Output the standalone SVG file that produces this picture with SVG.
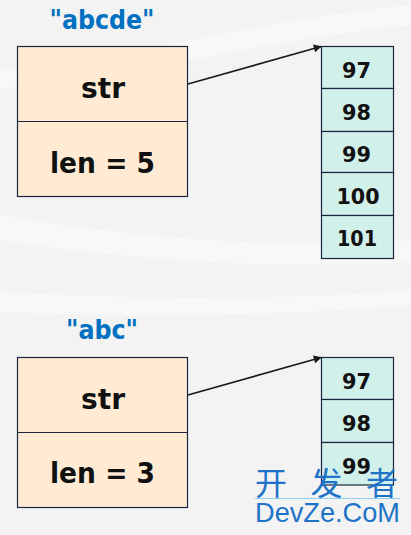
<svg xmlns="http://www.w3.org/2000/svg" width="411" height="535" viewBox="0 0 411 535">
<style>
.lbl{font-family:"Comic Sans MS","DejaVu Sans",sans-serif;font-weight:bold;font-size:27px;fill:#0070C0;text-anchor:middle}
.fld{font-family:"Comic Sans MS","DejaVu Sans",sans-serif;font-weight:bold;font-size:28px;fill:#111;text-anchor:middle}
.num{font-family:"Comic Sans MS","DejaVu Sans",sans-serif;font-weight:bold;font-size:22px;fill:#111;text-anchor:middle}
.box{fill:#FFEBD4;stroke:#1b2540;stroke-width:1.2}
.cell{fill:#D2F0EA;stroke:#1b2540;stroke-width:1.2}
.conn{stroke:#1a1a1a;stroke-width:1.6;fill:none}
.wm{font-family:"Liberation Sans","Noto Sans CJK SC",sans-serif;fill:#1E73C8}
</style>
<defs>
<marker id="ah" viewBox="0 0 10 10" refX="9" refY="5" markerWidth="11" markerHeight="8" markerUnits="userSpaceOnUse" orient="auto">
<path d="M0,0 L10,5 L0,10 z" fill="#1a1a1a"/>
</marker>
</defs>
<rect width="411" height="535" fill="#F3F3F3"/>
<path d="M0,70 C120,60 260,20 411,5 L411,25 C260,40 120,80 0,88 z" fill="#F8F8F8"/>
<path d="M0,215 C140,240 300,250 411,240 L411,262 C300,270 140,262 0,240 z" fill="#F8F8F8"/>
<path d="M0,292 C140,300 300,300 411,290 L411,305 C300,315 140,318 0,312 z" fill="#F8F8F8"/>

<g id="label-abcde"><text class="lbl" x="102" y="29" textLength="105" lengthAdjust="spacingAndGlyphs">"abcde"</text></g>
<g id="struct1">
<rect class="box" x="17.5" y="46.5" width="170" height="150"/>
<line x1="17.5" y1="121.5" x2="187.5" y2="121.5" stroke="#1b2540" stroke-width="1.2"/>
<text class="fld" x="103" y="98" textLength="44" lengthAdjust="spacingAndGlyphs">str</text>
<text class="fld" x="102.5" y="172.5" textLength="105" lengthAdjust="spacingAndGlyphs">len = 5</text>
</g>
<g id="array1">
<rect class="cell" x="321.5" y="46.5" width="72" height="42"/>
<rect class="cell" x="321.5" y="88.5" width="72" height="43"/>
<rect class="cell" x="321.5" y="131.5" width="72" height="41"/>
<rect class="cell" x="321.5" y="172.5" width="72" height="43"/>
<rect class="cell" x="321.5" y="215.5" width="72" height="43"/>
<text class="num" x="356.5" y="77.5" textLength="29" lengthAdjust="spacingAndGlyphs">97</text>
<text class="num" x="356.5" y="119.5" textLength="29" lengthAdjust="spacingAndGlyphs">98</text>
<text class="num" x="356.5" y="161.5" textLength="29" lengthAdjust="spacingAndGlyphs">99</text>
<text class="num" x="358" y="203.5" textLength="43" lengthAdjust="spacingAndGlyphs">100</text>
<text class="num" x="357" y="246" textLength="40" lengthAdjust="spacingAndGlyphs">101</text>
</g>

<g id="label-abc"><text class="lbl" x="102" y="339" textLength="72" lengthAdjust="spacingAndGlyphs">"abc"</text></g>
<g id="struct2">
<rect class="box" x="17.5" y="357.5" width="170" height="150"/>
<line x1="17.5" y1="432.5" x2="187.5" y2="432.5" stroke="#1b2540" stroke-width="1.2"/>
<text class="fld" x="103" y="408.5" textLength="44" lengthAdjust="spacingAndGlyphs">str</text>
<text class="fld" x="102.5" y="482.5" textLength="105" lengthAdjust="spacingAndGlyphs">len = 3</text>
</g>
<g id="array2">
<rect class="cell" x="321.5" y="357.5" width="72" height="42"/>
<rect class="cell" x="321.5" y="399.5" width="72" height="43"/>
<rect class="cell" x="321.5" y="442.5" width="72" height="42.5"/>
<text class="num" x="356.5" y="388.5" textLength="29" lengthAdjust="spacingAndGlyphs">97</text>
<text class="num" x="356.5" y="431" textLength="29" lengthAdjust="spacingAndGlyphs">98</text>
<text class="num" x="356.5" y="473.5" textLength="29" lengthAdjust="spacingAndGlyphs">99</text>
</g>

<g id="connectors">
<line class="conn" x1="188" y1="84" x2="321" y2="46.5" marker-end="url(#ah)"/>
<line class="conn" x1="188" y1="395" x2="321" y2="357.5" marker-end="url(#ah)"/>
</g>

<g id="watermark">
<text class="wm" x="255" y="495" font-size="32" textLength="143" lengthAdjust="spacing">开发者</text>
<line x1="255" y1="498.5" x2="400" y2="498.5" stroke="#8FD0F0" stroke-width="1"/>
<text class="wm" x="255" y="522" font-size="28" textLength="145" lengthAdjust="spacingAndGlyphs">DevZe.CoM</text>
</g>
</svg>
